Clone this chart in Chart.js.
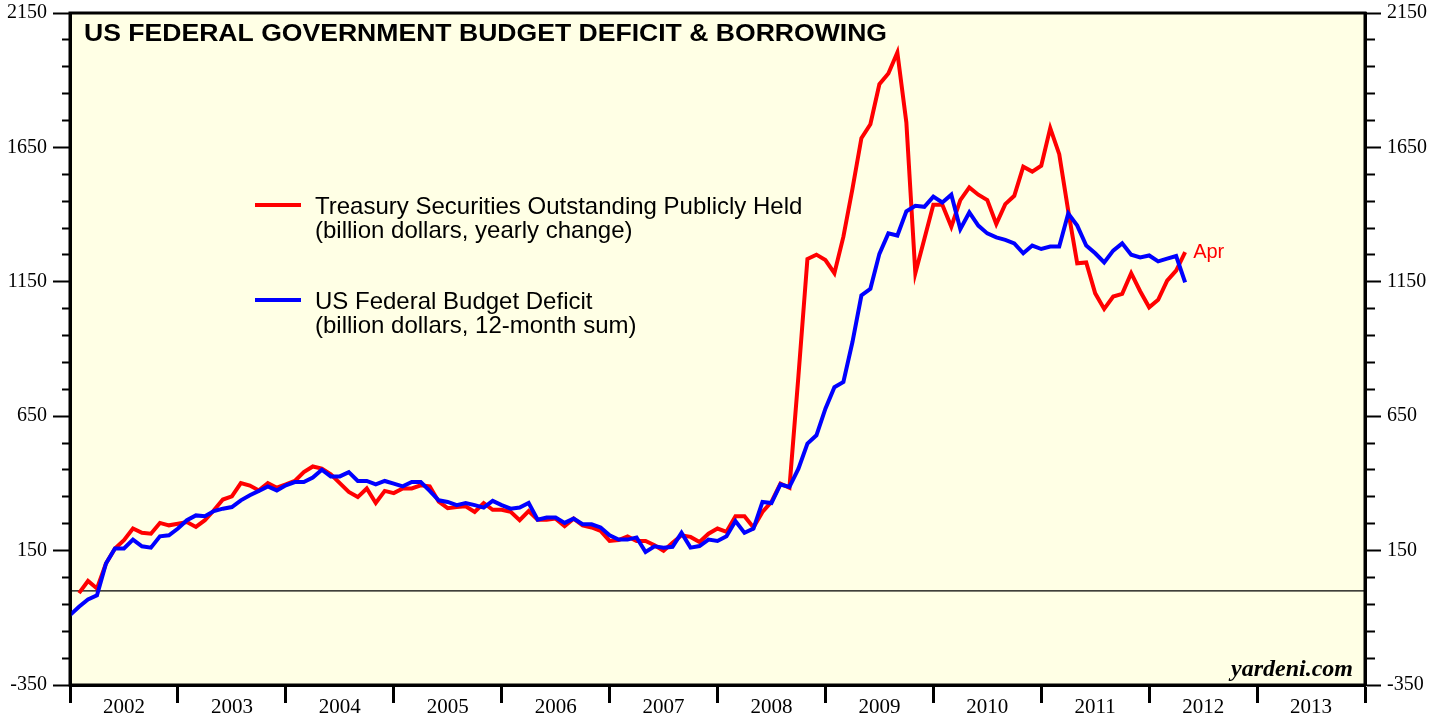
<!DOCTYPE html>
<html>
<head>
<meta charset="utf-8">
<title>US Federal Government Budget Deficit &amp; Borrowing</title>
<script src="https://cdn.jsdelivr.net/npm/chart.js@4.4.1/dist/chart.umd.min.js"></script>
<style>
  html, body { margin: 0; padding: 0; background: #fff; }
  #wrap { position: relative; width: 1446px; height: 719px; }
</style>
</head>
<body>
<div id="wrap"><canvas id="budgetChart"></canvas></div>
<script>
// Year labels on the bottom axis (12 months each)
const years = ['2002', '2003', '2004', '2005', '2006', '2007', '2008', '2009', '2010', '2011', '2012', '2013'];
// Labelled values on both y axes
const yLabels = [-350, 150, 650, 1150, 1650, 2150];
const yMin = -350;
const yMax = 2150;
const yStep = 100;

// month index of the first value (0 = Dec 2001, 1 = Jan 2002)
const treasuryStart = 1;
const deficitStart = 0;

// Treasury securities outstanding publicly held, yearly change (billion $)
const treasury = [
  -8, 37, 9, 102, 158, 189, 232, 216, 213, 253, 244, 250,
  256, 238, 263, 300, 340, 352, 401, 392, 374, 401, 384, 396,
  409, 442, 463, 455, 434, 401, 368, 349, 381, 327, 372, 364,
  381, 381, 393, 389, 332, 308, 312, 315, 294, 327, 302, 302,
  294, 263, 297, 265, 265, 269, 241, 269, 244, 236, 223, 186,
  189, 203, 186, 186, 170, 149, 179, 207, 201, 182, 213, 232,
  220, 278, 278, 236, 294, 331, 399, 384, 800, 1235, 1251, 1231,
  1182, 1318, 1495, 1684, 1736, 1885, 1925, 2003, 1743, 1182, 1309, 1437,
  1437, 1355, 1454, 1501, 1474, 1454, 1365, 1439, 1470, 1578, 1560, 1582,
  1722, 1625, 1414, 1219, 1222, 1107, 1049, 1095, 1105, 1182, 1115, 1055,
  1083, 1154, 1192, 1260
];

// US federal budget deficit, 12-month sum (billion $)
const deficit = [
  -90,
  -59, -32, -16, 102, 158, 158, 191, 166, 161, 203, 207, 232,
  263, 281, 278, 297, 306, 312, 337, 356, 372, 389, 374, 393,
  405, 405, 422, 451, 426, 426, 442, 409, 409, 396, 409, 399,
  389, 405, 405, 372, 337, 331, 319, 327, 319, 310, 335, 319,
  306, 310, 327, 265, 273, 273, 253, 269, 248, 248, 236, 207,
  191, 191, 199, 145, 166, 161, 164, 216, 161, 167, 191, 186,
  203, 260, 216, 232, 331, 327, 396, 387, 455, 548, 579, 678,
  758, 777, 925, 1099, 1124, 1254, 1330, 1322, 1412, 1433, 1429, 1467,
  1445, 1474, 1346, 1408, 1359, 1330, 1315, 1306, 1293, 1256, 1285, 1272,
  1281, 1281, 1404, 1359, 1285, 1256, 1222, 1266, 1293, 1251, 1241, 1248,
  1226, 1236, 1246, 1148
];

const lastLabel = 'Apr';

const totalMonths = years.length * 12;
const xTicks = [];
for (let m = 0; m <= totalMonths; m += 6) xTicks.push(m);
const yTicks = [];
for (let v = yMin; v <= yMax; v += yStep) yTicks.push(v);

const toPoints = (arr, start) => arr.map((v, i) => ({ x: i + start, y: v }));
const isMajor = v => yLabels.includes(v);

const serif = 'Liberation Serif, Times New Roman, serif';
const sans = 'Liberation Sans, Arial, Helvetica, sans-serif';

// draws text stretched sideways to a given width
function wideText(ctx, text, x, y, width) {
  const w = ctx.measureText(text).width;
  ctx.save();
  ctx.translate(x, y);
  ctx.scale(width / w, 1);
  ctx.fillText(text, 0, 0);
  ctx.restore();
}

// background, frame, title, legend and notes
const decor = {
  id: 'decor',
  beforeDraw(chart) {
    const { ctx, chartArea: a } = chart;
    ctx.save();
    ctx.fillStyle = '#FFFFE5';
    ctx.fillRect(a.left, a.top, a.right - a.left, a.bottom - a.top);
    ctx.restore();
  },
  afterDraw(chart) {
    const { ctx, chartArea: a } = chart;
    const xs = chart.scales.x;
    const ys = chart.scales.y;
    ctx.save();
    ctx.strokeStyle = '#000';
    ctx.lineWidth = 3;
    ctx.strokeRect(a.left, a.top, a.right - a.left, a.bottom - a.top);

    // title
    ctx.fillStyle = '#000';
    ctx.textBaseline = 'alphabetic';
    ctx.font = 'bold 23px ' + sans;
    wideText(ctx, 'US FEDERAL GOVERNMENT BUDGET DEFICIT & BORROWING', 84, 41, 803);

    // legend
    ctx.lineWidth = 4;
    ctx.strokeStyle = '#FF0000';
    ctx.beginPath(); ctx.moveTo(255, 205); ctx.lineTo(301, 205); ctx.stroke();
    ctx.strokeStyle = '#0000FF';
    ctx.beginPath(); ctx.moveTo(255, 300); ctx.lineTo(301, 300); ctx.stroke();
    ctx.font = '24px ' + sans;
    ctx.fillText('Treasury Securities Outstanding Publicly Held', 315, 214);
    ctx.fillText('(billion dollars, yearly change)', 315, 238);
    ctx.fillText('US Federal Budget Deficit', 315, 309);
    ctx.fillText('(billion dollars, 12-month sum)', 315, 333);

    // last month note next to the red line
    const lastIdx = treasury.length - 1;
    ctx.fillStyle = '#FF0000';
    ctx.font = '20px ' + sans;
    ctx.textBaseline = 'middle';
    ctx.fillText(lastLabel, xs.getPixelForValue(lastIdx + treasuryStart) + 8, ys.getPixelForValue(treasury[lastIdx]));

    // source
    ctx.fillStyle = '#000';
    ctx.textAlign = 'right';
    ctx.textBaseline = 'alphabetic';
    ctx.font = 'italic bold 24px ' + serif;
    ctx.fillText('yardeni.com', a.right - 12, a.bottom - 9);
    ctx.restore();
  }
};

const yAxis = (position, width, tickLen, dash) => ({
  type: 'linear',
  position: position,
  min: yMin,
  max: yMax,
  afterBuildTicks: s => { s.ticks = yTicks.map(v => ({ value: v })); },
  afterFit: s => { s.width = width; },
  grid: {
    drawOnChartArea: false,
    tickLength: tickLen,
    tickWidth: 2,
    tickColor: '#000',
    tickBorderDash: c => (c.tick && isMajor(c.tick.value)) ? [] : dash
  },
  border: { color: '#000', width: 3 },
  ticks: {
    autoSkip: false,
    padding: 6,
    color: '#000',
    font: { family: serif, size: 20, lineHeight: 0.7 },
    callback: v => isMajor(v) ? String(v) : ''
  }
});

new Chart(document.getElementById('budgetChart'), {
  type: 'line',
  data: {
    datasets: [
      {
        label: 'US Federal Budget Deficit',
        data: toPoints(deficit, deficitStart),
        borderColor: '#0000FF',
        borderWidth: 4,
        pointRadius: 0,
        tension: 0
      },
      {
        label: 'Treasury Securities Outstanding Publicly Held',
        data: toPoints(treasury, treasuryStart),
        borderColor: '#FF0000',
        borderWidth: 4,
        pointRadius: 0,
        tension: 0
      },
      {
        label: 'zero',
        data: [{ x: 0, y: 0 }, { x: totalMonths, y: 0 }],
        borderColor: '#000',
        borderWidth: 1.4,
        pointRadius: 0
      }
    ]
  },
  options: {
    responsive: true,
    maintainAspectRatio: false,
    animation: false,
    events: [],
    layout: { padding: { top: 12, left: 0, right: 0, bottom: 0 } },
    plugins: {
      legend: { display: false },
      tooltip: { enabled: false },
      title: { display: false }
    },
    scales: {
      x: {
        type: 'linear',
        min: 0,
        max: totalMonths,
        afterBuildTicks: s => { s.ticks = xTicks.map(v => ({ value: v })); },
        afterFit: s => { s.height = 34; },
        grid: {
          drawOnChartArea: false,
          tickLength: 18,
          tickWidth: 3,
          tickColor: c => (c.tick && c.tick.value % 12 === 0) ? '#000' : 'rgba(0,0,0,0)'
        },
        border: { color: '#000', width: 3 },
        ticks: {
          autoSkip: false,
          maxRotation: 0,
          padding: -8,
          color: '#000',
          font: { family: serif, size: 21 },
          callback: v => v % 12 === 6 ? years[(v - 6) / 12] : ''
        }
      },
      y: yAxis('left', 70, 17, [0, 9, 8, 60]),
      y2: yAxis('right', 81, 16, [8, 60])
    }
  },
  plugins: [decor]
});
</script>
</body>
</html>
